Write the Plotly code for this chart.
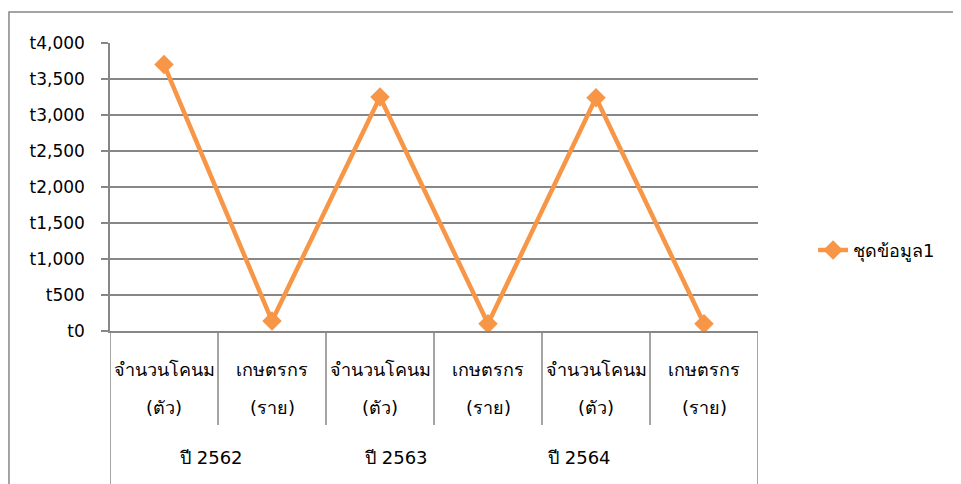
import plotly.graph_objects as go

cat_line1 = ["จำนวนโคนม", "เกษตรกร", "จำนวนโคนม", "เกษตรกร", "จำนวนโคนม", "เกษตรกร"]
cat_line2 = ["(ตัว)", "(ราย)", "(ตัว)", "(ราย)", "(ตัว)", "(ราย)"]
values = [3700, 140, 3250, 100, 3240, 100]
years = ["ปี 2562", "ปี 2563", "ปี 2564"]
year_pos = [0.44, 2.15, 3.85]
series_name = "ชุดข้อมูล1"
y_ticks = [0, 500, 1000, 1500, 2000, 2500, 3000, 3500, 4000]
y_tick_labels = ["t0", "t500", "t1,000", "t1,500", "t2,000", "t2,500", "t3,000", "t3,500", "t4,000"]

GRAY = "#878787"
ORANGE = "#F79646"
FONT = "'DejaVu Sans', 'Noto Sans', sans-serif"

xs = list(range(len(cat_line1)))
fig = go.Figure()
fig.add_trace(go.Scatter(
    x=xs, y=values, mode="lines+markers", name=series_name,
    line=dict(color=ORANGE, width=4.5),
    marker=dict(symbol="diamond", size=15, color=ORANGE),
))

annotations = []
for i, (a, b) in enumerate(zip(cat_line1, cat_line2)):
    annotations.append(dict(x=i, y=-0.135, xref="x", yref="paper", text=a, showarrow=False,
                            yanchor="middle", font=dict(size=18, color="#000", family=FONT)))
    annotations.append(dict(x=i, y=-0.264, xref="x", yref="paper", text=b, showarrow=False,
                            yanchor="middle", font=dict(size=18, color="#000", family=FONT)))
for p, yl in zip(year_pos, years):
    annotations.append(dict(x=p, y=-0.4375, xref="x", yref="paper", text=yl, showarrow=False,
                            yanchor="middle", font=dict(size=18, color="#000", family=FONT)))

shapes = []
n = len(cat_line1)
for k in range(n + 1):
    xv = k - 0.5
    bottom = -0.6 if k in (0, n) else -0.326
    shapes.append(dict(type="line", xref="x", yref="paper", x0=xv, x1=xv, y0=0, y1=bottom,
                       line=dict(color=GRAY, width=1.5)))
shapes.append(dict(type="rect", xref="paper", yref="paper", x0=-0.1559, x1=2, y0=1.1076, y1=-1,
                   line=dict(color=GRAY, width=1.5)))

fig.update_layout(
    width=961, height=484,
    margin=dict(l=102, r=211, t=35, b=161),
    paper_bgcolor="white", plot_bgcolor="white",
    font=dict(family=FONT, size=17, color="#000"),
    xaxis=dict(range=[-0.5, 5.5], showticklabels=False, showgrid=False, zeroline=False,
               showline=True, linecolor=GRAY, linewidth=1.5, ticks=""),
    yaxis=dict(range=[0, 4000], tickvals=y_ticks, ticktext=y_tick_labels,
               showgrid=True, gridcolor=GRAY, gridwidth=1.5, zeroline=False,
               showline=True, linecolor=GRAY, linewidth=1.5,
               ticks="outside", ticklen=7, tickcolor=GRAY, tickwidth=1.5,
               ticklabelstandoff=13,
               tickfont=dict(size=17, family=FONT)),
    legend=dict(x=1.085, y=0.28, xanchor="left", yanchor="middle", font=dict(size=18, family=FONT),
                bgcolor="rgba(0,0,0,0)"),
    showlegend=True,
    annotations=annotations,
    shapes=shapes,
)

fig.write_html("out.html")
